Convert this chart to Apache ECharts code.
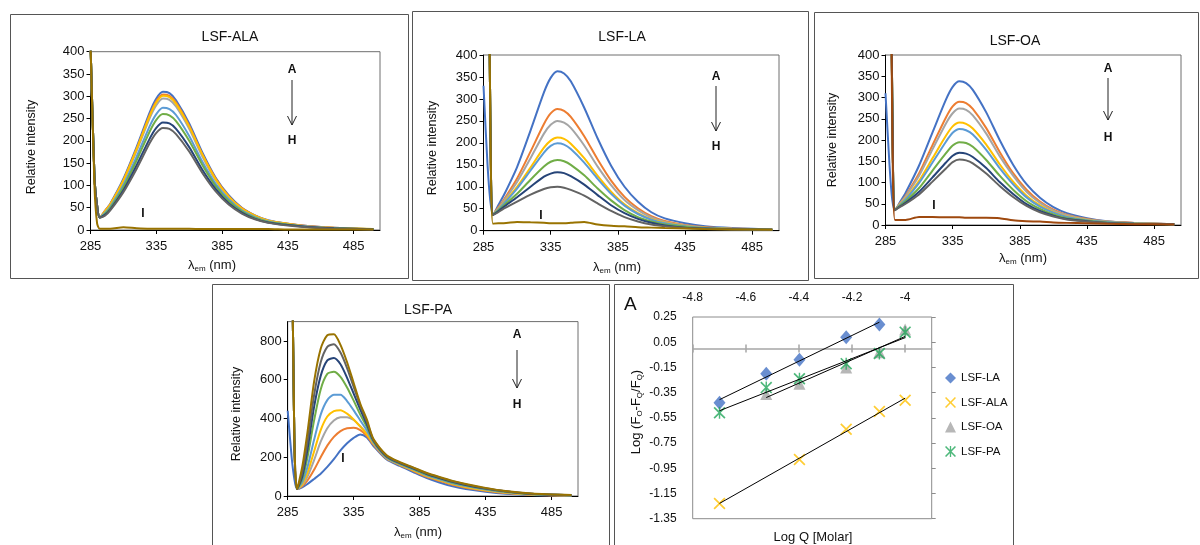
<!DOCTYPE html>
<html>
<head>
<meta charset="utf-8">
<script src="https://cdn.jsdelivr.net/npm/echarts@6/dist/echarts.min.js"></script>
<style>
  html, body { margin: 0; padding: 0; background: #fff; }
  #chart { width: 1200px; height: 545px; }
</style>
</head>
<body>
<div id="chart"></div>
<script>
// ---------- Emission spectra (relative intensity vs wavelength, nm) ----------
const wlStd = [285, 288, 290, 292, 296, 300, 310, 320, 330, 335, 340, 345, 350, 360, 370, 380, 390, 400, 410, 420, 435, 450, 470, 500];
const wlPA  = [285, 288, 290, 292, 296, 300, 305, 310, 315, 320, 325, 330, 335, 340, 345, 350, 360, 370, 380, 390, 400, 410, 420, 435, 450, 470, 500];

// LSF-ALA, curves A..H then I
const alaA = [420, 120, 55, 28, 43, 59, 115, 186, 264, 295, 310, 307, 291, 239, 174, 118, 78, 50, 33, 22, 14, 9, 5, 2];
const alaB = [420, 120, 55, 28, 43, 58, 112, 182, 258, 289, 304, 301, 286, 234, 170, 116, 76, 49, 32, 21, 14, 9, 5, 2];
const alaC = [420, 120, 55, 28, 41, 56, 109, 177, 251, 280, 295, 292, 277, 227, 165, 112, 74, 47, 31, 21, 13, 8, 4, 2];
const alaD = [420, 120, 55, 28, 42, 57, 111, 181, 256, 286, 301, 298, 283, 232, 169, 114, 75, 48, 32, 21, 14, 8, 5, 2];
const alaE = [420, 120, 55, 28, 38, 52, 101, 164, 233, 260, 274, 271, 258, 211, 153, 104, 69, 44, 29, 19, 12, 8, 4, 2];
const alaF = [420, 120, 55, 28, 36, 49, 96, 156, 221, 247, 260, 257, 244, 200, 146, 99, 65, 42, 27, 18, 12, 7, 4, 2];
const alaG = [420, 120, 55, 28, 34, 46, 89, 145, 205, 229, 241, 239, 227, 186, 135, 92, 60, 39, 25, 17, 11, 7, 4, 1];
const alaH = [420, 120, 55, 28, 32, 44, 85, 137, 195, 218, 229, 227, 215, 176, 128, 87, 57, 37, 24, 16, 10, 6, 3, 1];
const alaI = [420, 100, 15, 3, 3, 3, 6, 4, 3, 3, 3, 3, 3, 3, 2, 2, 2, 2, 2, 2, 1, 1, 1, 1];

// LSF-LA
const laA = [330, 150, 70, 36, 58, 80, 145, 228, 315, 348, 363, 358, 340, 280, 210, 148, 100, 66, 42, 28, 17, 10, 6, 3];
const laB = [2500, 1000, 280, 36, 53, 70, 119, 180, 243, 267, 277, 273, 259, 215, 162, 114, 77, 51, 33, 22, 13, 8, 5, 3];
const laC = [2500, 1000, 280, 36, 51, 67, 111, 165, 221, 241, 250, 246, 234, 194, 146, 104, 70, 47, 30, 20, 12, 7, 5, 3];
const laD = [2500, 1000, 280, 36, 49, 63, 100, 144, 189, 205, 212, 209, 198, 165, 125, 89, 60, 40, 26, 18, 11, 7, 4, 2];
const laE = [2500, 1000, 280, 36, 48, 61, 96, 137, 178, 193, 199, 196, 186, 155, 118, 84, 57, 38, 25, 17, 10, 6, 4, 2];
const laF = [2500, 1000, 280, 36, 46, 57, 84, 116, 146, 157, 161, 158, 150, 126, 96, 69, 47, 31, 21, 14, 9, 5, 4, 2];
const laG = [2500, 1000, 280, 36, 44, 54, 76, 100, 123, 130, 133, 131, 124, 105, 81, 58, 40, 27, 18, 12, 7, 5, 3, 2];
const laH = [2500, 1000, 280, 36, 42, 50, 66, 82, 95, 99, 100, 98, 93, 80, 62, 45, 31, 21, 14, 10, 6, 4, 3, 2];
const laI = [2500, 1000, 280, 16, 17, 17, 20, 19, 18, 17, 17, 17, 18, 20, 14, 11, 10, 8, 7, 6, 5, 4, 3, 2];

// LSF-OA
const oaA = [310, 140, 60, 35, 55, 76, 140, 218, 295, 325, 338, 334, 318, 265, 200, 142, 96, 64, 42, 28, 16, 9, 5, 2];
const oaB = [2500, 1000, 300, 35, 52, 69, 122, 188, 253, 279, 290, 287, 273, 228, 172, 122, 83, 55, 36, 24, 14, 8, 5, 2];
const oaC = [2500, 1000, 300, 35, 51, 67, 116, 178, 239, 263, 274, 271, 258, 215, 162, 116, 78, 52, 34, 23, 13, 8, 4, 2];
const oaD = [2500, 1000, 300, 35, 49, 62, 104, 157, 210, 232, 241, 238, 227, 189, 143, 102, 69, 46, 30, 20, 12, 7, 4, 2];
const oaE = [2500, 1000, 300, 35, 48, 60, 99, 147, 196, 217, 226, 223, 213, 177, 134, 96, 65, 43, 29, 19, 11, 7, 4, 2];
const oaF = [2500, 1000, 300, 35, 46, 56, 87, 128, 169, 187, 195, 193, 184, 153, 116, 83, 56, 38, 25, 16, 10, 6, 3, 2];
const oaG = [2500, 1000, 300, 35, 44, 52, 78, 112, 147, 163, 170, 168, 160, 134, 101, 73, 49, 33, 22, 14, 9, 5, 3, 2];
const oaH = [2500, 1000, 300, 35, 43, 50, 72, 102, 133, 148, 154, 152, 145, 121, 92, 66, 45, 30, 20, 13, 8, 5, 3, 2];
const oaI = [2500, 1000, 250, 12, 12, 12, 19, 19, 18, 18, 18, 17, 17, 17, 16, 11, 9, 8, 6, 5, 4, 3, 2, 1];

// LSF-PA
const paA = [440, 200, 90, 36, 45, 62, 88, 115, 150, 190, 235, 272, 300, 318, 302, 258, 188, 155, 124, 94, 70, 50, 36, 22, 12, 5, 2];
const paB = [3000, 1500, 300, 36, 50, 80, 135, 200, 260, 305, 335, 350, 352, 340, 310, 265, 192, 160, 130, 100, 78, 58, 43, 27, 15, 7, 2];
const paC = [3000, 1500, 300, 36, 55, 100, 185, 280, 350, 390, 406, 407, 392, 360, 322, 270, 195, 163, 135, 106, 84, 64, 48, 31, 18, 8, 3];
const paD = [3000, 1500, 300, 36, 60, 120, 230, 340, 410, 438, 443, 425, 395, 358, 318, 272, 196, 162, 133, 104, 82, 62, 47, 30, 18, 8, 3];
const paE = [3000, 1500, 300, 36, 70, 150, 290, 420, 495, 522, 522, 490, 442, 390, 338, 277, 198, 165, 137, 108, 86, 66, 51, 33, 20, 9, 3];
const paF = [3000, 1500, 300, 36, 85, 200, 390, 550, 630, 641, 615, 560, 492, 420, 356, 282, 201, 167, 140, 112, 90, 70, 55, 36, 22, 10, 4];
const paG = [3000, 1500, 300, 36, 100, 240, 460, 620, 700, 712, 680, 610, 528, 446, 370, 286, 204, 170, 143, 115, 93, 73, 57, 38, 24, 11, 4];
const paH = [3000, 1500, 300, 36, 120, 280, 520, 690, 770, 783, 740, 660, 563, 466, 384, 290, 207, 172, 146, 118, 96, 76, 60, 40, 25, 12, 5];
const paI = [3000, 1500, 300, 36, 150, 330, 590, 760, 830, 835, 780, 690, 583, 476, 394, 294, 210, 175, 148, 120, 98, 78, 62, 42, 26, 13, 5];

const wlTicks = [285, 335, 385, 435, 485];
const intTicks400 = [0, 50, 100, 150, 200, 250, 300, 350, 400];
const intTicks900 = [0, 200, 400, 600, 800];

// ---------- Double-log quenching plot ----------
const logQ = [-4.699, -4.523, -4.398, -4.222, -4.097, -4.0];
const quenchLA  = [-0.43, -0.20, -0.09, 0.09, 0.19, null];
const quenchALA = [-1.23, null, -0.88, -0.64, -0.50, -0.41];
const quenchOA  = [null, -0.36, -0.28, -0.15, -0.03, 0.15];
const quenchPA  = [-0.51, -0.31, -0.24, -0.12, -0.04, 0.13];
const logQTicks = [-4.8, -4.6, -4.4, -4.2, -4.0];
const ratioTicks = [0.25, 0.05, -0.15, -0.35, -0.55, -0.75, -0.95, -1.15, -1.35];

// ---------- styling ----------
const FONT = 'Liberation Sans, Arial, sans-serif';
const SPEC_COLORS = ['#4472C4', '#ED7D31', '#A5A5A5', '#FFC000', '#5B9BD5', '#70AD47', '#264478', '#636363'];
const GOLD = '#997300', BROWN = '#9E480E';

const panels = [
  { grid: { left: 90.5, top: 51.7, width: 289.5, height: 178.3 }, wl: wlStd, max: 400, ticks: intTicks400,
    curves: [alaA, alaB, alaC, alaD, alaE, alaF, alaG, alaH, alaI], lastColor: GOLD },
  { grid: { left: 483.5, top: 55, width: 295.5, height: 175.7 }, wl: wlStd, max: 400, ticks: intTicks400,
    curves: [laA, laB, laC, laD, laE, laF, laG, laH, laI], lastColor: GOLD },
  { grid: { left: 885.5, top: 55, width: 295.5, height: 170 }, wl: wlStd, max: 400, ticks: intTicks400,
    curves: [oaA, oaB, oaC, oaD, oaE, oaF, oaG, oaH, oaI], lastColor: BROWN },
  { grid: { left: 287.7, top: 321.6, width: 290.3, height: 174.4 }, wl: wlPA, max: 900, ticks: intTicks900,
    curves: [paA, paB, paC, paD, paE, paF, paG, paH, paI], lastColor: GOLD }
];

const grids = [], xAxes = [], yAxes = [], series = [];

panels.forEach((p, gi) => {
  grids.push(Object.assign({ show: true, borderColor: '#6e6e6e', borderWidth: 1, backgroundColor: 'transparent' }, p.grid));
  xAxes.push({
    type: 'value', gridIndex: gi, min: 285, max: 505,
    axisLine: { show: true, onZero: false, lineStyle: { color: '#000', width: 1 } },
    axisTick: { show: true, length: 4, customValues: wlTicks, lineStyle: { color: '#000' } },
    axisLabel: { customValues: wlTicks, color: '#111', fontSize: 13, fontFamily: FONT, margin: 10 },
    splitLine: { show: false }
  });
  yAxes.push({
    type: 'value', gridIndex: gi, min: 0, max: p.max,
    axisLine: { show: true, lineStyle: { color: '#000', width: 1 } },
    axisTick: { show: true, length: 4, customValues: p.ticks, lineStyle: { color: '#000' } },
    axisLabel: { customValues: p.ticks, color: '#111', fontSize: 13, fontFamily: FONT, margin: 6 },
    splitLine: { show: false }
  });
  p.curves.forEach((vals, ci) => {
    series.push({
      type: 'line', xAxisIndex: gi, yAxisIndex: gi,
      data: p.wl.map((w, i) => [w, vals[i]]),
      smooth: 0.25, symbol: 'none', clip: true, silent: true,
      lineStyle: { color: ci < 8 ? SPEC_COLORS[ci] : p.lastColor, width: 2 },
      z: 2 + ci * 0.01
    });
  });
});

// quenching plot grid and axes
grids.push({ left: 692.7, top: 317, width: 239, height: 201.7, show: true, borderColor: '#8c8c8c', borderWidth: 1 });
const qIdx = 4;
xAxes.push({ // labels along the top
  type: 'value', gridIndex: qIdx, position: 'top', min: -4.8, max: -3.9,
  axisLine: { show: false, onZero: false }, axisTick: { show: false }, splitLine: { show: false },
  axisLabel: { customValues: logQTicks, color: '#111', fontSize: 12, fontFamily: FONT, margin: 13,
    formatter: v => String(Math.round(v * 10) / 10) }
});
xAxes.push({ // crossing line at zero, ticks downward
  type: 'value', gridIndex: qIdx, position: 'bottom', min: -4.8, max: -3.9,
  axisLine: { show: true, onZero: true, lineStyle: { color: '#A6A6A6', width: 1.5 } },
  axisTick: { show: true, length: 4, customValues: logQTicks, lineStyle: { color: '#A6A6A6', width: 1.5 } },
  axisLabel: { show: false }, splitLine: { show: false }
});
xAxes.push({ // same line, ticks upward
  type: 'value', gridIndex: qIdx, position: 'top', min: -4.8, max: -3.9,
  axisLine: { show: false, onZero: true },
  axisTick: { show: true, length: 4, customValues: logQTicks, lineStyle: { color: '#A6A6A6', width: 1.5 } },
  axisLabel: { show: false }, splitLine: { show: false }
});
yAxes.push({
  type: 'value', gridIndex: qIdx, position: 'left', min: -1.35, max: 0.25,
  axisLine: { show: false, onZero: false }, axisTick: { show: false }, splitLine: { show: false },
  axisLabel: { customValues: ratioTicks, color: '#111', fontSize: 12, fontFamily: FONT, margin: 16,
    formatter: v => v.toFixed(2) }
});
yAxes.push({
  type: 'value', gridIndex: qIdx, position: 'right', min: -1.35, max: 0.25,
  axisLine: { show: false, onZero: false }, splitLine: { show: false },
  axisTick: { show: true, length: 4, customValues: ratioTicks, lineStyle: { color: '#8c8c8c' } },
  axisLabel: { show: false }
});

const X_PATH = 'path://M0,1 L1,0 L5,4 L9,0 L10,1 L6,5 L10,9 L9,10 L5,6 L1,10 L0,9 L4,5 Z';
const ASTER_PATH = 'path://M0,1 L1,0 L5,4 L9,0 L10,1 L6,5 L10,9 L9,10 L5,6 L1,10 L0,9 L4,5 Z M4.4,0 L5.6,0 L5.6,10 L4.4,10 Z';

function toPairs(ys) {
  return logQ.map((x, i) => (ys[i] == null ? null : [x, ys[i]])).filter(Boolean);
}
function fitLine(pts) {
  const n = pts.length;
  let sx = 0, sy = 0, sxx = 0, sxy = 0;
  pts.forEach(([x, y]) => { sx += x; sy += y; sxx += x * x; sxy += x * y; });
  const m = (n * sxy - sx * sy) / (n * sxx - sx * sx);
  const b = (sy - m * sx) / n;
  const x0 = pts[0][0], x1 = pts[n - 1][0];
  return [[x0, m * x0 + b], [x1, m * x1 + b]];
}

const quench = [
  { name: 'LSF-LA', ys: quenchLA, symbol: 'diamond', size: [12, 14], color: '#4472C4' },
  { name: 'LSF-ALA', ys: quenchALA, symbol: X_PATH, size: 12, color: '#FFC000' },
  { name: 'LSF-OA', ys: quenchOA, symbol: 'triangle', size: 12, color: '#A5A5A5' },
  { name: 'LSF-PA', ys: quenchPA, symbol: ASTER_PATH, size: 12, color: '#22A65A' }
];
quench.forEach(q => {
  series.push({
    type: 'scatter', name: q.name, xAxisIndex: 4, yAxisIndex: 4,
    data: toPairs(q.ys), symbol: q.symbol, symbolSize: q.size,
    itemStyle: { color: q.color }, z: 3
  });
});
quench.forEach(q => {
  series.push({
    type: 'line', xAxisIndex: 4, yAxisIndex: 4, data: fitLine(toPairs(q.ys)),
    symbol: 'none', silent: true, lineStyle: { color: '#000', width: 1 }, z: 4
  });
});

// ---------- frames and text ----------
const txt = (x, y, text, extra) => ({
  type: 'text', x, y, silent: true,
  style: Object.assign({ text, fill: '#111', font: '12px ' + FONT, align: 'center', verticalAlign: 'middle' }, extra || {})
});
const frame = (x, y, w, h) => ({
  type: 'rect', silent: true, shape: { x, y, width: w, height: h },
  style: { fill: 'none', stroke: '#555', lineWidth: 1 }
});
const arrow = (x, y0, y1) => ({
  type: 'group', silent: true, children: [
    { type: 'line', shape: { x1: x, y1: y0, x2: x, y2: y1 }, style: { stroke: '#222', lineWidth: 1 } },
    { type: 'polyline', shape: { points: [[x - 4.5, y1 - 9], [x, y1], [x + 4.5, y1 - 9]] }, style: { stroke: '#222', lineWidth: 1, fill: 'none' } }
  ]
});
const sub = { s: { fontSize: 8, lineHeight: 8, verticalAlign: 'bottom', fontFamily: FONT, fill: '#111' } };
const wlName = (x, y) => ({
  type: 'text', x, y, silent: true,
  style: { text: 'λ{s|em} (nm)', rich: sub, fill: '#111', fontSize: 13, fontFamily: FONT, lineHeight: 16, align: 'center', verticalAlign: 'middle' }
});
const intName = (x, y) => txt(x, y, 'Relative intensity', { font: '12.5px ' + FONT });
const bold = 'bold 12px ' + FONT;

const specLabels = [
  // title, y-name, x-name, A / arrow / H, I
  { t: ['LSF-ALA', 230, 37], yn: [32, 147], xn: [212, 265], a: [292, 70, 80, 125, 141], i: [143, 214] },
  { t: ['LSF-LA', 622, 37], yn: [433, 148], xn: [617, 267], a: [716, 77, 86, 131, 147], i: [541, 216] },
  { t: ['LSF-OA', 1015, 41], yn: [833, 140], xn: [1023, 258], a: [1108, 69, 78, 120, 138], i: [934, 206] },
  { t: ['LSF-PA', 428, 310], yn: [237, 414], xn: [418, 532], a: [517, 335, 350, 388, 405], i: [343, 459] }
];

const graphics = [
  frame(10.5, 14.5, 398, 264),
  frame(412.5, 11.5, 396, 269),
  frame(814.5, 12.5, 384, 266),
  frame(212.5, 284.5, 397, 275),
  frame(614.5, 284.5, 399, 275)
];
specLabels.forEach(s => {
  graphics.push(txt(s.t[1], s.t[2], s.t[0], { font: '14px ' + FONT }));
  const yn = intName(s.yn[0], s.yn[1]); yn.rotation = Math.PI / 2; graphics.push(yn);
  graphics.push(wlName(s.xn[0], s.xn[1]));
  graphics.push(txt(s.a[0], s.a[1], 'A', { font: bold }));
  graphics.push(arrow(s.a[0], s.a[2], s.a[3]));
  graphics.push(txt(s.a[0], s.a[4], 'H', { font: bold }));
  graphics.push(txt(s.i[0], s.i[1], 'I', { font: bold }));
});
graphics.push(txt(624, 305, 'A', { font: '19px ' + FONT, align: 'left' }));
graphics.push(txt(813, 537, 'Log Q [Molar]', { font: '13px ' + FONT }));
graphics.push({
  type: 'text', x: 636, y: 412, rotation: Math.PI / 2, silent: true,
  style: { text: 'Log (F{s|O}-F{s|Q}/F{s|Q})', rich: sub, fill: '#111', fontSize: 13, fontFamily: FONT, lineHeight: 16, align: 'center', verticalAlign: 'middle' }
});

const chart = echarts.init(document.getElementById('chart'), null, { renderer: 'canvas' });
chart.setOption({
  animation: false,
  backgroundColor: '#fff',
  textStyle: { fontFamily: FONT },
  grid: grids,
  xAxis: xAxes,
  yAxis: yAxes,
  legend: {
    orient: 'vertical', left: 940, top: 367, itemWidth: 11, itemHeight: 11, itemGap: 12.5,
    textStyle: { fontSize: 11.5, color: '#111', fontFamily: FONT },
    data: quench.map(q => q.name)
  },
  series,
  graphic: graphics
});
</script>
</body>
</html>
